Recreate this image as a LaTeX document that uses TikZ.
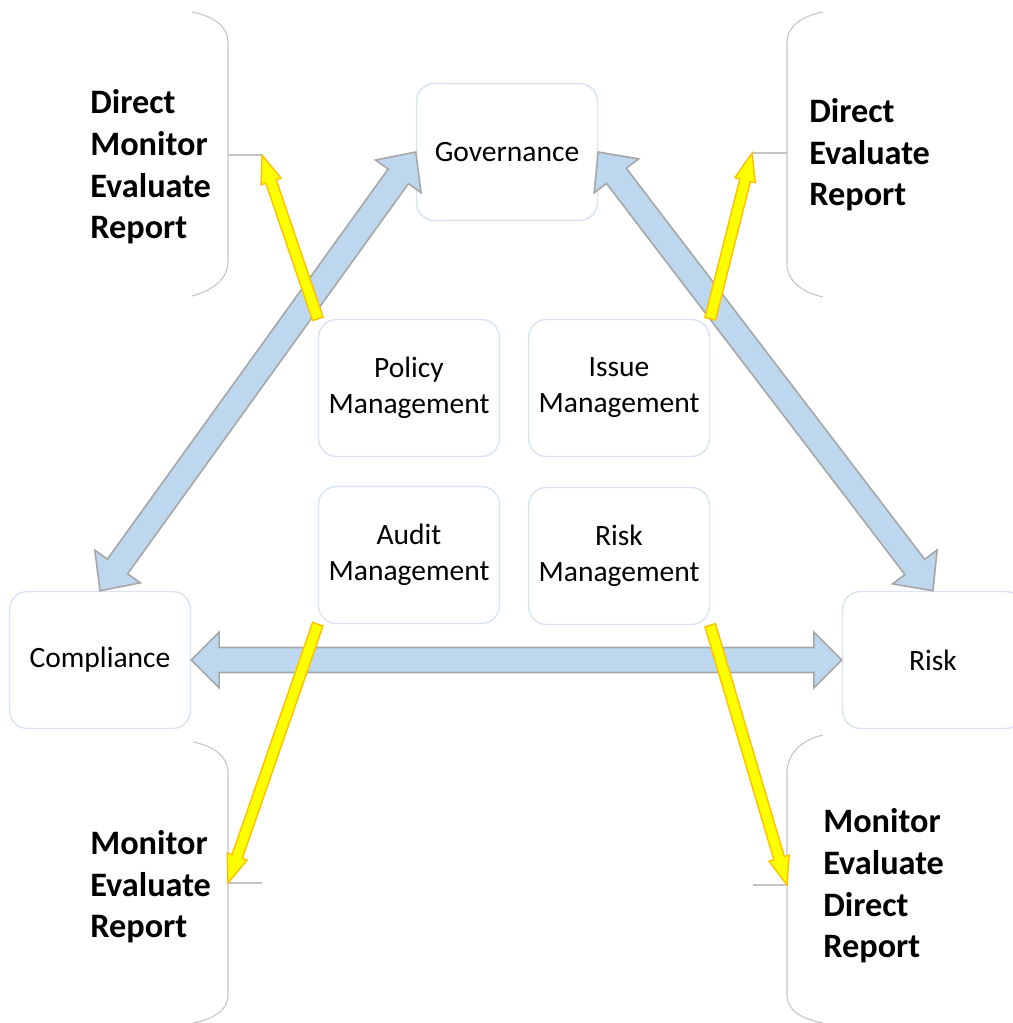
\documentclass[tikz,border=0pt]{standalone}
\usepackage{fontspec}
\setmainfont{Carlito}
\usetikzlibrary{calc}
\definecolor{boxline}{HTML}{DAE3F3}
\definecolor{blockfill}{HTML}{BDD7EE}
\definecolor{blockline}{HTML}{A6A6A6}
\definecolor{markfill}{HTML}{FFFF00}
\definecolor{markline}{HTML}{FFC000}
\definecolor{braceline}{HTML}{C4C4C4}
\tikzset{
  area/.style={draw=boxline, line width=0.8pt, fill=white, rounded corners=0.36cm,
    minimum width=3.62cm, minimum height=2.74cm, align=center,
    font=\fontsize{16.8}{20.5}\selectfont},
  duty/.style={anchor=west, inner sep=0pt, align=left,
    font=\fontsize{19.5}{23.7}\selectfont\bfseries},
  brace/.style={draw=braceline, line width=0.6pt},
  flow/.style={fill=blockfill, draw=blockline, line width=0.9pt, line join=miter},
  feed/.style={fill=markfill, draw=markline, line width=0.8pt, line join=miter}
}
% block arrows: style, from, to, shaft half width, head half width, head length
\newcommand\twoway[6]{%
  \coordinate (tb) at ($(#2)!#6!(#3)$);
  \coordinate (hb) at ($(#3)!#6!(#2)$);
  \draw[#1] (#2) -- ($(tb)!#5!90:(#3)$) -- ($(tb)!#4!90:(#3)$)
    -- ($(hb)!#4!90:(#3)$) -- ($(hb)!#5!90:(#3)$) -- (#3)
    -- ($(hb)!#5!-90:(#3)$) -- ($(hb)!#4!-90:(#3)$)
    -- ($(tb)!#4!-90:(#3)$) -- ($(tb)!#5!-90:(#3)$) -- cycle;}
\newcommand\oneway[6]{%
  \coordinate (hb) at ($(#3)!#6!(#2)$);
  \draw[#1] ($(#2)!#4!90:(#3)$) -- ($(hb)!#4!90:(#3)$) -- ($(hb)!#5!90:(#3)$)
    -- (#3) -- ($(hb)!#5!-90:(#3)$) -- ($(hb)!#4!-90:(#3)$)
    -- ($(#2)!#4!-90:(#3)$) -- cycle;}
\begin{document}
\begin{tikzpicture}[x=0.02cm, y=-0.02cm]
  \useasboundingbox (0,0) rectangle (1012,1023);
  \node[area] (gov) at (507,152) {Governance};
  \node[area] (comp) at (100,660) {Compliance};
  \node[area] (risk) at (933,660) {Risk};
  \node[area] (pol) at (409,388) {Policy\\Management};
  \node[area] (iss) at (619,388) {Issue\\Management};
  \node[area] (aud) at (409,555) {Audit\\Management};
  \node[area] (rmg) at (619,556) {Risk\\Management};

  \draw[brace] (192,12) .. controls (214,16) and (228,27) .. (228,42) -- (228,262)
    .. controls (228,278) and (214,290) .. (192,296);
  \draw[brace] (823,12) .. controls (801,16) and (787,27) .. (787,42) -- (787,264)
    .. controls (787,280) and (801,292) .. (823,297);
  \draw[brace] (193,742) .. controls (214,746) and (228,757) .. (228,772) -- (228,995)
    .. controls (228,1010) and (214,1019) .. (193,1023);
  \draw[brace] (823,735) .. controls (801,740) and (787,754) .. (787,773) -- (787,995)
    .. controls (787,1010) and (801,1019) .. (823,1023);
  \coordinate (tlb) at (228,155);
  \coordinate (tlt) at (262,155);
  \coordinate (trb) at (787,153);
  \coordinate (trt) at (752,153);
  \coordinate (blb) at (228,883);
  \coordinate (blt) at (262,883);
  \coordinate (brb) at (787,885);
  \coordinate (brt) at (753,885);
  \draw[brace] (tlb) -- (tlt) (trb) -- (trt) (blb) -- (blt) (brb) -- (brt);

  \node[duty] (tlText) at (90,167) {Direct\\Monitor\\Evaluate\\Report};
  \node[duty] (trText) at (809,155) {Direct\\Evaluate\\Report};
  \node[duty] (blText) at (90,887) {Monitor\\Evaluate\\Report};
  \node[duty] (brText) at (823,886) {Monitor\\Evaluate\\Direct\\Report};

  \twoway{flow}{gov.west}{comp.north}{0.25cm}{0.56cm}{0.6cm}
  \twoway{flow}{gov.east}{risk.north}{0.25cm}{0.56cm}{0.6cm}
  \twoway{flow}{comp.east}{risk.west}{0.25cm}{0.56cm}{0.56cm}

  \oneway{feed}{pol.north west}{tlt}{0.11cm}{0.21cm}{0.56cm}
  \oneway{feed}{iss.north east}{trt}{0.11cm}{0.21cm}{0.56cm}
  \oneway{feed}{aud.south west}{blb}{0.11cm}{0.21cm}{0.56cm}
  \oneway{feed}{rmg.south east}{brb}{0.11cm}{0.21cm}{0.56cm}
\end{tikzpicture}
\end{document}
